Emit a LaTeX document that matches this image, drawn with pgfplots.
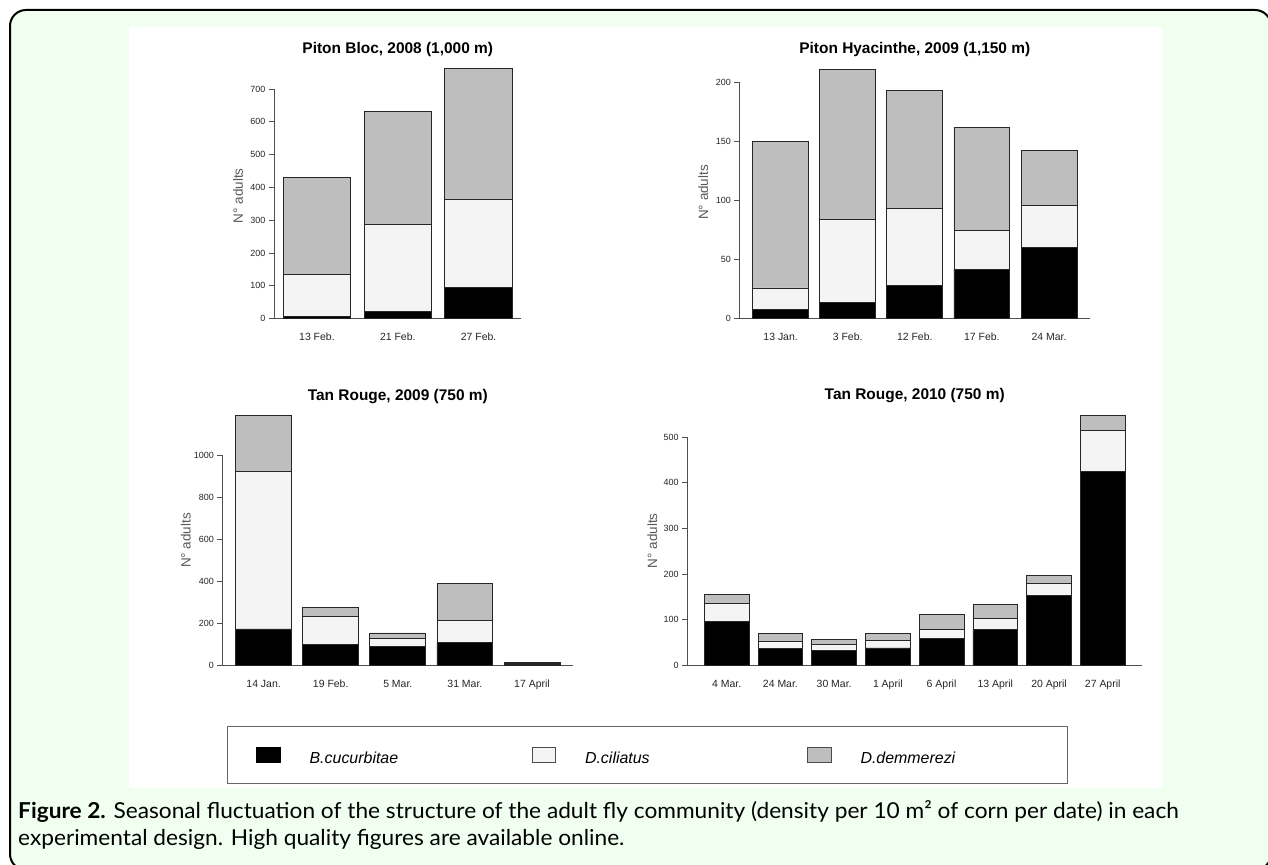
\documentclass[border=0pt]{standalone}
\usepackage{fontspec}
\setmainfont{Liberation Sans}
\newfontfamily\capfont[FakeStretch=1.035]{Lato}
\usepackage{pgfplots}
\pgfplotsset{compat=1.18}
\definecolor{bgreen}{HTML}{F0FFF0}
\definecolor{cil}{HTML}{F4F4F4}
\definecolor{dem}{HTML}{BEBEBE}
\definecolor{axc}{HTML}{505050}
\pgfplotsset{
  rbar/.style={
    scale only axis, anchor=south west,
    ybar stacked, bar width=1, ymin=0, clip=false,
    axis x line*=bottom, axis y line*=left,
    axis line style={draw=axc, line width=0.8bp},
    tick align=outside, major tick length=5.3bp,
    xtick style={draw=none},
    ytick style={draw=axc, line width=0.8bp},
    minor tick num=0,
    scaled y ticks=false,
    /pgf/number format/assume math mode=true,
    /pgf/number format/1000 sep={},
    yticklabel style={font=\fontsize{9}{10}\selectfont, text=black!85},
    xticklabel style={font=\fontsize{10.5}{12}\selectfont, text=black!85, anchor=base, yshift=-16.5bp},
    ylabel={N° adults},
    ylabel style={font=\fontsize{13.5}{16}\selectfont, text=black!65, anchor=center},
    every axis title shift=0pt,
    title style={font=\fontsize{15.5}{18}\selectfont\bfseries, anchor=center},
  },
  bblack/.style={fill=black, draw=black!85, line width=0.8bp},
  bcil/.style={fill=cil, draw=black!85, line width=0.8bp},
  bdem/.style={fill=dem, draw=black!85, line width=0.8bp},
}
\begin{document}
\begin{tikzpicture}
\useasboundingbox (0,0) rectangle (1268bp,865bp);
\draw[line width=2bp, fill=bgreen, rounded corners=16bp] (10bp,855bp) rectangle (1271bp,-5bp);
\fill[white] (129bp,838bp) rectangle (1162bp,77bp);

% Plot 1
\begin{axis}[rbar, at={(274.1bp,546.3bp)}, width=247.3bp, height=229.7bp,
  xmin=0.064, xmax=3.736, ymax=700, ytick={0,100,...,700},
  xtick={0.7,1.9,3.1}, xticklabels={13 Feb.,21 Feb.,27 Feb.},
  title={Piton Bloc, 2008 (1,000 m)}, title style={at={(0.5,1.17)}},
  ylabel style={at={(axis description cs:-0.1456,0.535)}}]
\addplot[bblack] coordinates {(0.7,8) (1.9,21) (3.1,94)};
\addplot[bcil] coordinates {(0.7,126) (1.9,267) (3.1,269)};
\addplot[bdem] coordinates {(0.7,296) (1.9,344) (3.1,399)};
\end{axis}

% Plot 2
\begin{axis}[rbar, at={(739.7bp,546.3bp)}, width=350.2bp, height=236.4bp,
  xmin=-0.032, xmax=6.232, ymax=200, ytick={0,50,...,200},
  xtick={0.7,1.9,3.1,4.3,5.5}, xticklabels={13 Jan.,3 Feb.,12 Feb.,17 Feb.,24 Mar.},
  title={Piton Hyacinthe, 2009 (1,150 m)}, title style={at={(0.5,1.137)}},
  ylabel style={at={(axis description cs:-0.104,0.534)}}]
\addplot[bblack] coordinates {(0.7,8) (1.9,14) (3.1,28) (4.3,42) (5.5,60)};
\addplot[bcil] coordinates {(0.7,18) (1.9,70) (3.1,65) (4.3,33) (5.5,36)};
\addplot[bdem] coordinates {(0.7,124) (1.9,127) (3.1,100) (4.3,87) (5.5,46)};
\end{axis}

% Plot 3
\begin{axis}[rbar, at={(222.7bp,199.7bp)}, width=350.2bp, height=210.3bp,
  xmin=-0.032, xmax=6.232, ymax=1000, ytick={0,200,...,1000},
  xtick={0.7,1.9,3.1,4.3,5.5}, xticklabels={14 Jan.,19 Feb.,5 Mar.,31 Mar.,17 April},
  title={Tan Rouge, 2009 (750 m)}, title style={at={(0.5,1.277)}},
  ylabel style={at={(axis description cs:-0.105,0.593)}}]
\addplot[bblack] coordinates {(0.7,173) (1.9,98) (3.1,89) (4.3,108) (5.5,6)};
\addplot[bcil] coordinates {(0.7,748) (1.9,133) (3.1,38) (4.3,104) (5.5,4)};
\addplot[bdem] coordinates {(0.7,266) (1.9,46) (3.1,27) (4.3,179) (5.5,4)};
\end{axis}

% Plot 4
\begin{axis}[rbar, at={(687.5bp,199.7bp)}, width=454.4bp, height=228.3bp,
  xmin=-0.176, xmax=9.976, ymax=500, ytick={0,100,...,500},
  xtick={0.7,1.9,3.1,4.3,5.5,6.7,7.9,9.1},
  xticklabels={4 Mar.,24 Mar.,30 Mar.,1 April,6 April,13 April,20 April,27 April},
  title={Tan Rouge, 2010 (750 m)}, title style={at={(0.5,1.181)}},
  ylabel style={at={(axis description cs:-0.0775,0.546)}}]
\addplot[bblack] coordinates {(0.7,96) (1.9,36) (3.1,33) (4.3,38) (5.5,59) (6.7,78) (7.9,152) (9.1,424)};
\addplot[bcil] coordinates {(0.7,39) (1.9,16) (3.1,13) (4.3,17) (5.5,20) (6.7,24) (7.9,28) (9.1,90)};
\addplot[bdem] coordinates {(0.7,21) (1.9,17) (3.1,11) (4.3,14) (5.5,32) (6.7,31) (7.9,16) (9.1,33)};
\end{axis}

% Legend
\begin{axis}[at={(0,0)}, anchor=south west, scale only axis, width=1268bp, height=865bp,
  xmin=0, xmax=1, ymin=0, ymax=1, hide axis,
  legend columns=3, legend cell align=left,
  legend image code/.code={\draw[#1, line width=0.8bp] (0bp,-7.2bp) rectangle (23.6bp,7.2bp);},
  legend style={at={(0.17879,0.16069)}, anchor=north west, draw=black!60, line width=1bp,
    fill=white, inner xsep=29bp, inner ysep=15.7bp,
    font=\fontsize{16}{19}\selectfont\itshape,
    nodes={inner sep=0pt, text width=178.4bp, text height=21.6bp, text depth=4bp},
    /tikz/every odd column/.append style={column sep=29bp},
    /tikz/every even column/.append style={column sep=43.65bp}}]
\addlegendimage{fill=black, draw=black}
\addlegendentry{B.cucurbitae}
\addlegendimage{fill=cil, draw=black!70}
\addlegendentry{D.ciliatus}
\addlegendimage{fill=dem, draw=black!70}
\addlegendentry{D.demmerezi}
\end{axis}

% Caption
\node[anchor=base west, inner sep=0pt, font=\capfont\fontsize{22}{26}\selectfont] at (18bp,46bp)
  {\textbf{Figure 2.} Seasonal fluctuation of the structure of the adult fly community (density per 10 m² of corn per date) in each};
\node[anchor=base west, inner sep=0pt, font=\capfont\fontsize{22}{26}\selectfont] at (18bp,20bp)
  {experimental design. High quality figures are available online.};
\end{tikzpicture}
\end{document}
